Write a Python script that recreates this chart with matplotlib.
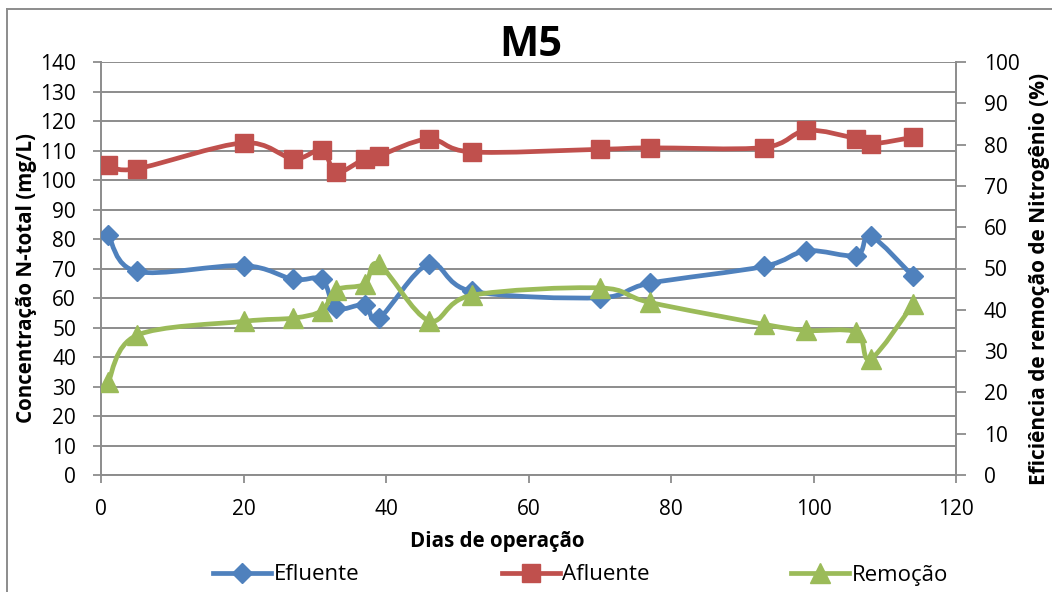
import numpy as np
import matplotlib
matplotlib.use("Agg")
import matplotlib.pyplot as plt
from matplotlib.path import Path
from matplotlib.patches import PathPatch
from matplotlib.lines import Line2D

# ---------------- data ----------------
dias = [1, 5, 20, 27, 31, 33, 37, 39, 46, 52, 70, 77, 93, 99, 106, 108, 114]
efluente = [81.5, 69.0, 71.0, 66.3, 66.3, 56.6, 57.7, 53.1, 71.5, 62.3,
            60.1, 65.0, 70.7, 76.0, 74.4, 81.0, 67.3]
afluente = [105.0, 103.8, 112.6, 107.2, 110.2, 102.6, 107.2, 108.2, 113.9, 109.5,
            110.4, 110.9, 111.0, 116.8, 114.0, 112.2, 114.5]
remocao = [22.5, 33.8, 37.2, 38.0, 39.8, 44.8, 46.2, 51.0, 37.4, 43.5,
           45.3, 41.8, 36.5, 35.0, 34.6, 28.1, 41.4]

series_names = ["Efluente", "Afluente", "Remoção"]
xticks = [0, 20, 40, 60, 80, 100, 120]
yticks_left = list(range(0, 141, 10))
yticks_right = list(range(0, 101, 10))

title = "M5"
xlabel = "Dias de operação"
ylabel_left = "Concentração N-total (mg/L)"
ylabel_right = "Eficiência de remoção de Nitrogênio (%)"

# ---------------- style ----------------
W, H = 1052, 592
C_BLUE = "#4F81BD"
C_RED = "#C0504D"
C_GREEN = "#9BBB59"
C_GRID = "#8C8C8C"
FONT = ["Open Sans", "DejaVu Sans"]
plt.rcParams["font.family"] = FONT


def smooth_path(x, y):
    """Excel-like smoothed line: cubic Bezier segments through the data points."""
    pts = np.column_stack([x, y]).astype(float)
    n = len(pts)
    verts = [pts[0]]
    codes = [Path.MOVETO]
    for i in range(n - 1):
        p0 = pts[i - 1] if i > 0 else pts[i]
        p1 = pts[i]
        p2 = pts[i + 1]
        p3 = pts[i + 2] if i + 2 < n else pts[i + 1]
        c1 = p1 + (p2 - p0) / 6.0
        c2 = p2 - (p3 - p1) / 6.0
        verts += [c1, c2, p2]
        codes += [Path.CURVE4] * 3
    return Path(verts, codes)


fig = plt.figure(figsize=(W / 100, H / 100), dpi=100)
fig.patch.set_facecolor("white")

left_px, right_px, top_px, bot_px = 101, 956, 62, 475
ax = fig.add_axes([left_px / W, 1 - bot_px / H, (right_px - left_px) / W, (bot_px - top_px) / H])
ax.set_xlim(0, 120)
ax.set_ylim(0, 140)
ax.set_xticks(xticks)
ax.set_yticks(yticks_left)
ax.yaxis.grid(True, color=C_GRID, lw=1.4)
ax.set_axisbelow(True)
for s in ["top", "right"]:
    ax.spines[s].set_visible(False)
for s in ["left", "bottom"]:
    ax.spines[s].set_color(C_GRID)
    ax.spines[s].set_linewidth(1.4)
ax.tick_params(axis="y", direction="out", length=6, width=1.3, color=C_GRID,
               labelsize=15, pad=12)
ax.tick_params(axis="x", direction="out", length=6, width=1.3, color=C_GRID,
               labelsize=15, pad=11)

ax2 = ax.twinx()
ax2.set_ylim(0, 100)
ax2.set_yticks(yticks_right)
for s in ["top", "left", "bottom"]:
    ax2.spines[s].set_visible(False)
ax2.spines["right"].set_color(C_GRID)
ax2.spines["right"].set_linewidth(1.4)
ax2.tick_params(axis="y", direction="out", length=7, width=1.3, color=C_GRID,
                labelsize=15, pad=13)

LW = 3.4
# Efluente
ax.add_patch(PathPatch(smooth_path(dias, efluente), fill=False, edgecolor=C_BLUE,
                       lw=LW, capstyle="round", joinstyle="round", zorder=3))
ax.plot(dias, efluente, ls="none", marker="D", ms=10, color=C_BLUE, zorder=4)
# Afluente
ax.add_patch(PathPatch(smooth_path(dias, afluente), fill=False, edgecolor=C_RED,
                       lw=LW, capstyle="round", joinstyle="round", zorder=3))
ax.plot(dias, afluente, ls="none", marker="s", ms=13, color=C_RED, zorder=4)
# Remocao (right axis)
ax2.add_patch(PathPatch(smooth_path(dias, remocao), fill=False, edgecolor=C_GREEN,
                        lw=LW, capstyle="round", joinstyle="round", zorder=3))
ax2.plot(dias, remocao, ls="none", marker="^", ms=14, color=C_GREEN, zorder=4)

# titles / labels
fig.text(531 / W, 1 - 45 / H, title, ha="center", va="center", fontsize=30,
         fontweight="bold")
fig.text(497 / W, 1 - 541 / H, xlabel, ha="center", va="center", fontsize=14.8,
         fontweight="bold")
fig.text(27 / W, 1 - 278 / H, ylabel_left, ha="center", va="center", rotation=90,
         fontsize=14.8, fontweight="bold")
fig.text(1040 / W, 1 - 279 / H, ylabel_right, ha="center", va="center", rotation=90,
         fontsize=15, fontweight="bold")

# legend (one entry each, placed like the reference)
handles = [
    Line2D([], [], color=C_BLUE, lw=LW, marker="D", ms=10),
    Line2D([], [], color=C_RED, lw=LW, marker="s", ms=13),
    Line2D([], [], color=C_GREEN, lw=LW, marker="^", ms=14),
]
leg_x = [213, 502, 791]
for h, name, x0 in zip(handles, series_names, leg_x):
    fig.legend([h], [name], loc="center left", bbox_to_anchor=(x0 / W, 1 - 575 / H),
               frameon=False, fontsize=16, handlelength=2.6, handletextpad=0.12,
               borderpad=0, borderaxespad=0)

# chart area border (top and left visible)
fig.add_artist(Line2D([7 / W, 7 / W], [0, 1 - 9 / H], transform=fig.transFigure,
                      color=C_GRID, lw=1.4))
fig.add_artist(Line2D([7 / W, 1], [1 - 9 / H, 1 - 9 / H], transform=fig.transFigure,
                      color=C_GRID, lw=1.4))

fig.savefig("out.png", dpi=100, facecolor="white")
